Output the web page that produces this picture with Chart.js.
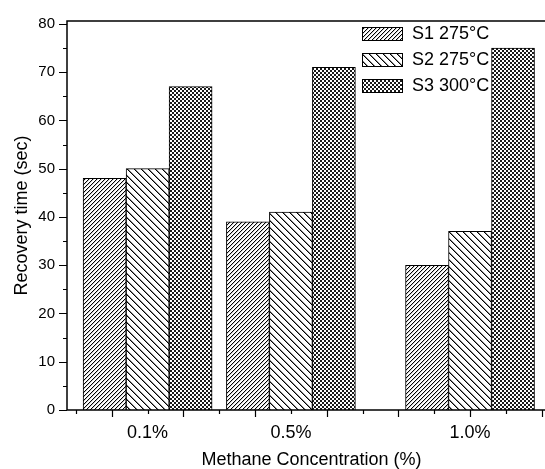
<!DOCTYPE html>
<html>
<head>
<meta charset="utf-8">
<script src="https://cdn.jsdelivr.net/npm/chart.js@4.4.0/dist/chart.umd.min.js"></script>
<style>
html,body{margin:0;padding:0;background:#fff;overflow:hidden}
#wrap{width:560px;height:469px}
</style>
</head>
<body>
<div id="wrap"><canvas id="chart"></canvas></div>
<script>
const concentrations = [0.1, 0.5, 1.0];
const concLabels = ["0.1%", "0.5%", "1.0%"];
const s1Values = [48, 39, 30];
const s2Values = [50, 41, 37];
const s3Values = [67, 71, 75];
const seriesNames = ["S1 275°C", "S2 275°C", "S3 300°C"];
const yTicks = [0, 10, 20, 30, 40, 50, 60, 70, 80];
const yMinorTicks = [5, 15, 25, 35, 45, 55, 65, 75];
const xMajorTicks = [0, 0.2, 0.4, 0.6, 0.8, 1.0, 1.2];
const xMinorTicks = [-0.1, 0.1, 0.3, 0.5, 0.7, 0.9, 1.1];

const FONT = "'Liberation Sans', Arial, sans-serif";

function makePattern(kind){
  const c = document.createElement("canvas");
  const n = kind === "back" ? 7 : 4;
  c.width = n; c.height = n;
  const g = c.getContext("2d");
  g.fillStyle = "#fff";
  g.fillRect(0, 0, n, n);
  if(kind === "fwd"){
    g.fillStyle = "#000";
    for(let i = 0; i < n; i++) g.fillRect(i, n - 1 - i, 1, 1);
    g.fillStyle = "#ccc";
    for(let i = 0; i < n; i++) g.fillRect((i + 1) % n, n - 1 - i, 1, 1);
  } else if(kind === "back"){
    g.fillStyle = "#000";
    for(let i = 0; i < n; i++) g.fillRect(i, i, 1, 1);
    g.fillStyle = "#888";
    for(let i = 0; i < n; i++) g.fillRect((i + 1) % n, i, 1, 1);
  } else {
    g.fillStyle = "#1a1a1a";
    g.fillRect(0, 0, 2, 2);
    g.fillRect(2, 2, 2, 2);
  }
  return g.createPattern(c, "repeat");
}

function toPoints(vals){
  return vals.map((v, i) => ({x: concentrations[i], y: v}));
}

const patterns = [makePattern("fwd"), makePattern("back"), makePattern("check")];
const seriesValues = [s1Values, s2Values, s3Values];

const frameAndTicks = {
  id: "frameAndTicks",
  afterDraw(chart){
    const ctx = chart.ctx;
    const a = chart.chartArea;
    const xs = chart.scales.x;
    const ys = chart.scales.y;
    ctx.save();
    ctx.strokeStyle = "#000";
    ctx.lineWidth = 1.5;
    ctx.strokeRect(a.left, a.top, a.right - a.left, a.bottom - a.top);
    ctx.lineWidth = 1.2;
    ctx.beginPath();
    for(const v of xMajorTicks){
      const px = Math.round(xs.getPixelForValue(v)) + 0.5;
      ctx.moveTo(px, a.bottom); ctx.lineTo(px, a.bottom + 7);
    }
    for(const v of xMinorTicks){
      const px = Math.round(xs.getPixelForValue(v)) + 0.5;
      ctx.moveTo(px, a.bottom); ctx.lineTo(px, a.bottom + 4);
    }
    for(const v of yTicks){
      const py = Math.round(ys.getPixelForValue(v)) + 0.5;
      ctx.moveTo(a.left, py); ctx.lineTo(a.left - 8, py);
    }
    for(const v of yMinorTicks){
      const py = Math.round(ys.getPixelForValue(v)) + 0.5;
      ctx.moveTo(a.left, py); ctx.lineTo(a.left - 4, py);
    }
    ctx.stroke();

    // legend
    const lx = 362, ly = 27, step = 26;
    ctx.font = "18px " + FONT;
    ctx.textBaseline = "middle";
    ctx.textAlign = "left";
    chart.data.datasets.forEach((ds, i) => {
      const y = ly + i * step;
      ctx.fillStyle = ds.backgroundColor;
      ctx.fillRect(lx, y, 40, 13);
      ctx.lineWidth = 1;
      ctx.strokeRect(lx + 0.5, y + 0.5, 40, 13);
      ctx.fillStyle = "#000";
      ctx.fillText(ds.label, lx + 50, y + 7);
    });
    ctx.restore();
  }
};

new Chart(document.getElementById("chart"), {
  type: "bar",
  data: {
    datasets: seriesNames.map((name, i) => ({
      label: name,
      data: toPoints(seriesValues[i]),
      backgroundColor: patterns[i],
      borderColor: "#000",
      borderWidth: 1,
      barThickness: 43
    }))
  },
  options: {
    responsive: true,
    maintainAspectRatio: false,
    animation: false,
    layout: { padding: { top: 16, right: 4, left: 0, bottom: 0 } },
    plugins: { legend: { display: false }, tooltip: { enabled: false } },
    scales: {
      x: {
        type: "linear",
        offset: false,
        min: -0.125,
        max: 1.24,
        grid: { display: false, drawTicks: false, offset: false },
        border: { display: false },
        afterBuildTicks: s => { s.ticks = concentrations.map(v => ({value: v})); },
        afterFit: s => { s.height = 59; },
        ticks: {
          color: "#000",
          padding: 12,
          font: { family: FONT, size: 18 },
          callback: v => concLabels[concentrations.indexOf(v)] || ""
        },
        title: {
          display: true,
          text: "Methane Concentration (%)",
          color: "#000",
          font: { family: FONT, size: 18, lineHeight: 1 },
          padding: { top: 0, bottom: 0 }
        }
      },
      y: {
        min: 0,
        max: 80.6,
        grid: { display: false, drawTicks: false },
        border: { display: false },
        afterBuildTicks: s => { s.ticks = yTicks.map(v => ({value: v})); },
        afterFit: s => { s.width = 67; },
        ticks: {
          color: "#000",
          padding: 12,
          font: { family: FONT, size: 15 }
        },
        title: {
          display: true,
          text: "Recovery time (sec)",
          color: "#000",
          font: { family: FONT, size: 18, lineHeight: 1 },
          padding: { top: 13, bottom: 0 }
        }
      }
    }
  },
  plugins: [frameAndTicks]
});
</script>
</body>
</html>
